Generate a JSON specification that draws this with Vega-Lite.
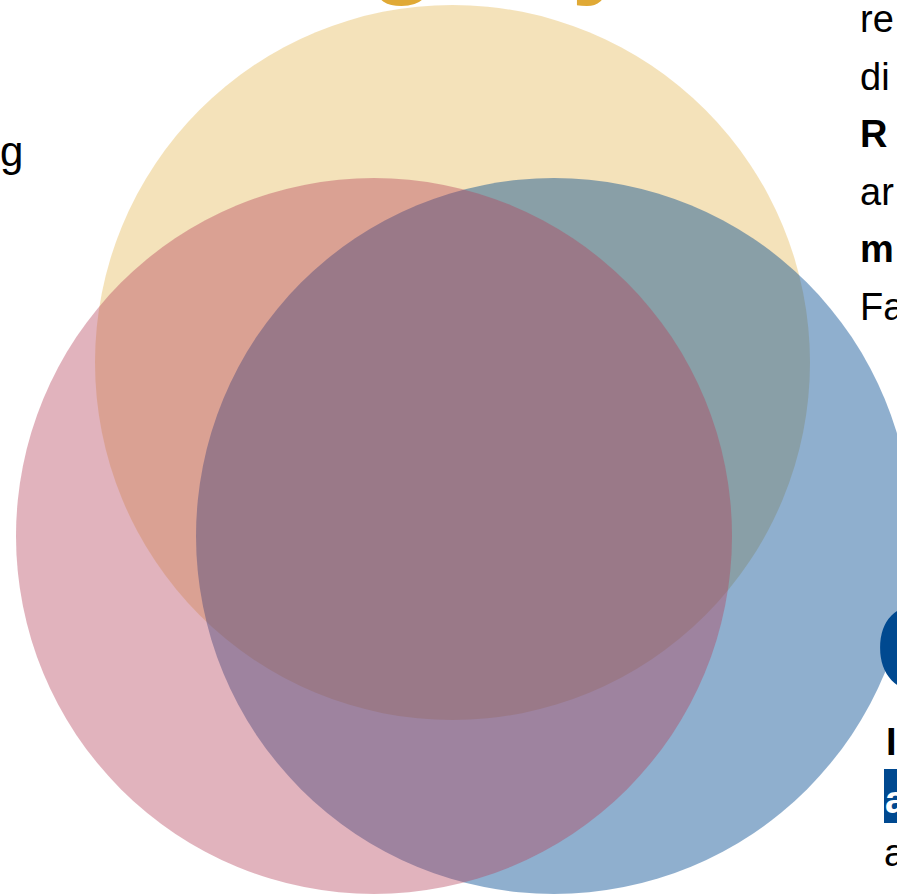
{
  "$schema": "https://vega.github.io/schema/vega-lite/v6.json",
  "width": 897,
  "height": 894,
  "autosize": {"type": "fit", "contains": "padding"},
  "padding": 0,
  "background": "white",
  "config": {"view": {"stroke": null}, "font": "Liberation Sans"},
  "datasets": {
    "circles": [
      {"set": "Yellow", "x": 452.5, "y": 362.5},
      {"set": "Blue", "x": 554, "y": 536},
      {"set": "Pink", "x": 374, "y": 536}
    ],
    "bodyText": [
      {"label": "re", "x": 860, "y": 32},
      {"label": "di", "x": 860, "y": 89.5},
      {"label": "ar", "x": 860, "y": 204.5},
      {"label": "Fa", "x": 860, "y": 319.5},
      {"label": "a", "x": 884, "y": 866}
    ],
    "leftText": [
      {"label": "g", "x": 0, "y": 166}
    ],
    "boldText": [
      {"label": "R", "x": 860, "y": 147},
      {"label": "m", "x": 860, "y": 262},
      {"label": "I", "x": 886, "y": 755}
    ],
    "highlight": [
      {"x": 884, "x2": 897, "y": 769, "y2": 823, "label": "a"}
    ],
    "headingTop": [
      {"label": "g", "x": 368, "y": -18},
      {"label": "y", "x": 571, "y": -18}
    ],
    "headingRight": [
      {"label": "O", "x": 875, "y": 691}
    ]
  },
  "encoding": {
    "x": {"field": "x", "type": "quantitative", "scale": {"domain": [0, 897], "nice": false, "zero": false}, "axis": null},
    "y": {"field": "y", "type": "quantitative", "scale": {"domain": [0, 894], "reverse": true, "nice": false, "zero": false}, "axis": null}
  },
  "layer": [
    {
      "data": {"name": "circles"},
      "transform": [{"filter": "datum.set === 'Yellow'"}],
      "mark": {"type": "point", "shape": "circle", "filled": true, "strokeWidth": 0, "color": "#E0A935", "opacity": 0.34, "clip": true},
      "encoding": {"size": {"value": 511225}}
    },
    {
      "data": {"name": "circles"},
      "transform": [{"filter": "datum.set === 'Blue'"}],
      "mark": {"type": "point", "shape": "circle", "filled": true, "strokeWidth": 0, "color": "#004990", "opacity": 0.44, "clip": true},
      "encoding": {"size": {"value": 512656}}
    },
    {
      "data": {"name": "circles"},
      "transform": [{"filter": "datum.set === 'Pink'"}],
      "mark": {"type": "point", "shape": "circle", "filled": true, "strokeWidth": 0, "color": "#B5425A", "opacity": 0.4, "clip": true},
      "encoding": {"size": {"value": 512656}}
    },
    {
      "data": {"name": "headingTop"},
      "mark": {"type": "text", "align": "left", "baseline": "alphabetic", "fontSize": 115, "fontWeight": "bold", "color": "#E0A935", "clip": true},
      "encoding": {"text": {"field": "label"}}
    },
    {
      "data": {"name": "headingRight"},
      "mark": {"type": "text", "align": "left", "baseline": "alphabetic", "fontSize": 124, "fontWeight": "bold", "color": "#004990", "clip": true},
      "encoding": {"text": {"field": "label"}}
    },
    {
      "data": {"name": "highlight"},
      "mark": {"type": "rect", "color": "#004990", "clip": true},
      "encoding": {
        "x2": {"field": "x2"},
        "y2": {"field": "y2"}
      }
    },
    {
      "data": {"name": "highlight"},
      "mark": {"type": "text", "align": "left", "baseline": "alphabetic", "fontSize": 38, "fontWeight": "bold", "color": "white", "clip": true, "dx": 1, "dy": -10},
      "encoding": {"y": {"field": "y2", "type": "quantitative"}, "text": {"field": "label"}}
    },
    {
      "data": {"name": "bodyText"},
      "mark": {"type": "text", "align": "left", "baseline": "alphabetic", "fontSize": 38, "color": "#000000", "clip": true},
      "encoding": {"text": {"field": "label"}}
    },
    {
      "data": {"name": "leftText"},
      "mark": {"type": "text", "align": "left", "baseline": "alphabetic", "fontSize": 42, "color": "#000000", "clip": true},
      "encoding": {"text": {"field": "label"}}
    },
    {
      "data": {"name": "boldText"},
      "mark": {"type": "text", "align": "left", "baseline": "alphabetic", "fontSize": 38, "fontWeight": "bold", "color": "#000000", "clip": true},
      "encoding": {"text": {"field": "label"}}
    }
  ]
}
